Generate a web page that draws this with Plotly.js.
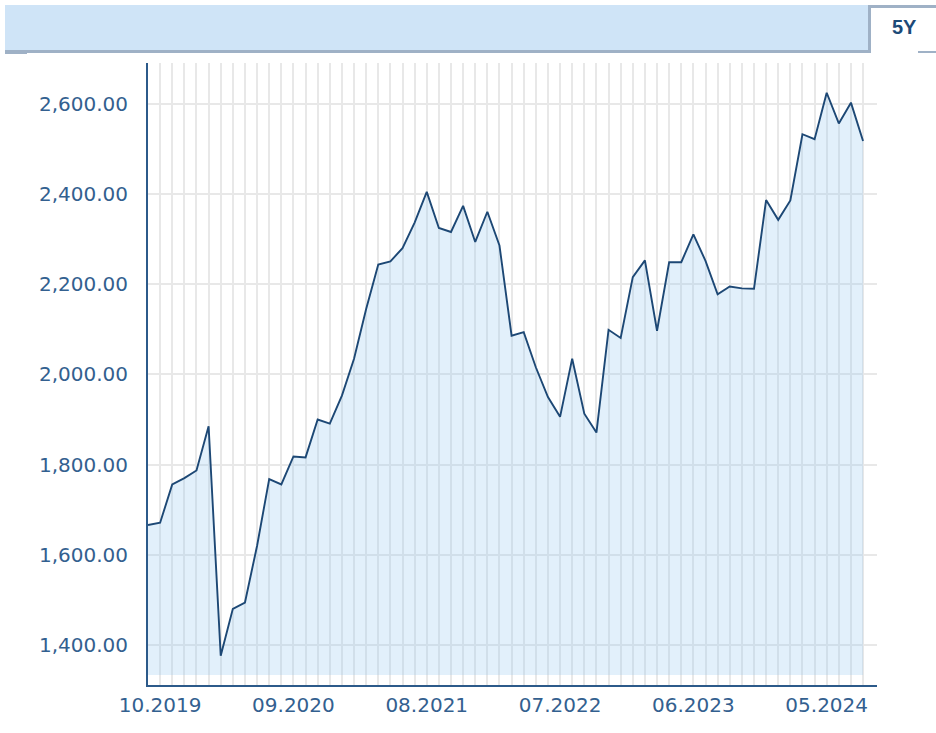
<!DOCTYPE html>
<html>
<head>
<meta charset="utf-8">
<script src="https://cdn.plot.ly/plotly-3.0.1.min.js"></script>
<style>
  html, body { margin: 0; padding: 0; background: #ffffff; }
  #wrap { position: relative; width: 936px; height: 733px; overflow: hidden; }
  #chart { position: absolute; left: 0; top: 0; width: 936px; height: 733px; }
  #header { position: absolute; left: 5px; top: 5px; width: 863px; height: 45px;
            background: #cfe4f7; border-right: 3px solid #9fb1c6; border-bottom: 3px solid #9fb1c6; z-index: 2; }
  #tab { position: absolute; left: 871px; top: 5px; width: 65px; height: 47px;
         border-top: 3px solid #9fb1c6; background: #ffffff; z-index: 2; box-sizing: border-box; }
  #tab span { position: absolute; left: 21px; top: 8px; font-family: "Liberation Sans", Arial, sans-serif;
              font-weight: bold; font-size: 20px; color: #1c4a78; }
  #tabline { position: absolute; left: 918px; top: 51px; width: 18px; height: 2px; background: #9fb1c6; z-index: 2; }
  #leftmark { position: absolute; left: 5px; top: 50px; width: 22px; height: 4px; background: #9fb1c6; z-index: 3; }
</style>
</head>
<body>
<div id="wrap">
  <div id="chart"></div>
  <div id="header"></div>
  <div id="leftmark"></div>
  <div id="tab"><span>5Y</span></div>
  <div id="tabline"></div>
</div>
<script>
// ---- data ----
const MONTHS = [
  "09.2019","10.2019","11.2019","12.2019",
  "01.2020","02.2020","03.2020","04.2020","05.2020","06.2020","07.2020","08.2020","09.2020","10.2020","11.2020","12.2020",
  "01.2021","02.2021","03.2021","04.2021","05.2021","06.2021","07.2021","08.2021","09.2021","10.2021","11.2021","12.2021",
  "01.2022","02.2022","03.2022","04.2022","05.2022","06.2022","07.2022","08.2022","09.2022","10.2022","11.2022","12.2022",
  "01.2023","02.2023","03.2023","04.2023","05.2023","06.2023","07.2023","08.2023","09.2023","10.2023","11.2023","12.2023",
  "01.2024","02.2024","03.2024","04.2024","05.2024","06.2024","07.2024","08.2024"
];
const VALUES = [
  1666, 1671, 1756, 1770,
  1787, 1885, 1376, 1480, 1494, 1620, 1768, 1756, 1818, 1816, 1900, 1891,
  1953, 2035, 2145, 2244, 2251, 2280, 2337, 2405, 2325, 2316, 2374, 2294,
  2361, 2286, 2086, 2094, 2016, 1950, 1906, 2035, 1913, 1871,
  2099, 2081, 2216, 2253, 2097, 2249, 2249, 2311, 2252, 2178, 2195, 2191,
  2190, 2387, 2343, 2386, 2533, 2522, 2625, 2557, 2603, 2518
];
const TICK_LABELS = ["10.2019","09.2020","08.2021","07.2022","06.2023","05.2024"];
const Y_TICKS = [1400, 1600, 1800, 2000, 2200, 2400, 2600];
const Y_RANGE = [1311, 2691];
const FILL_BASE = 1333;

const axisBlue = '#2c5a8a';
const textBlue = '#33608f';

const baseTrace = {
  x: MONTHS,
  y: MONTHS.map(() => FILL_BASE),
  type: 'scatter', mode: 'lines',
  line: { width: 0, color: 'rgba(0,0,0,0)' },
  hoverinfo: 'skip', showlegend: false
};
const mainTrace = {
  x: MONTHS,
  y: VALUES,
  type: 'scatter', mode: 'lines',
  fill: 'tonexty',
  fillcolor: 'rgba(150,200,240,0.28)',
  line: { color: '#1d4875', width: 1.9 },
  showlegend: false
};

const layout = {
  width: 936, height: 733,
  margin: { l: 148, r: 59, t: 63, b: 48, pad: 0 },
  paper_bgcolor: 'rgba(0,0,0,0)',
  plot_bgcolor: '#ffffff',
  showlegend: false,
  xaxis: {
    type: 'category',
    categoryorder: 'array', categoryarray: MONTHS,
    range: [0, 60.15],
    tickmode: 'array',
    tickvals: MONTHS,
    ticktext: MONTHS.map(m => TICK_LABELS.includes(m) ? m : ''),
    ticks: '',
    ticklabelstandoff: 1,
    showgrid: true, gridcolor: '#e8e8e8', gridwidth: 2,
    showline: true, linecolor: axisBlue, linewidth: 2,
    zeroline: false,
    tickfont: { family: 'DejaVu Sans, Verdana, sans-serif', size: 20, color: textBlue }
  },
  yaxis: {
    range: Y_RANGE,
    tickmode: 'array',
    tickvals: Y_TICKS,
    tickformat: ',.2f',
    ticks: '',
    ticklabelstandoff: 14,
    showgrid: true, gridcolor: '#e8e8e8', gridwidth: 2,
    showline: true, linecolor: axisBlue, linewidth: 2,
    zeroline: false,
    tickfont: { family: 'DejaVu Sans, Verdana, sans-serif', size: 20, color: textBlue }
  }
};

Plotly.newPlot('chart', [baseTrace, mainTrace], layout, { staticPlot: true, displayModeBar: false });
</script>
</body>
</html>
